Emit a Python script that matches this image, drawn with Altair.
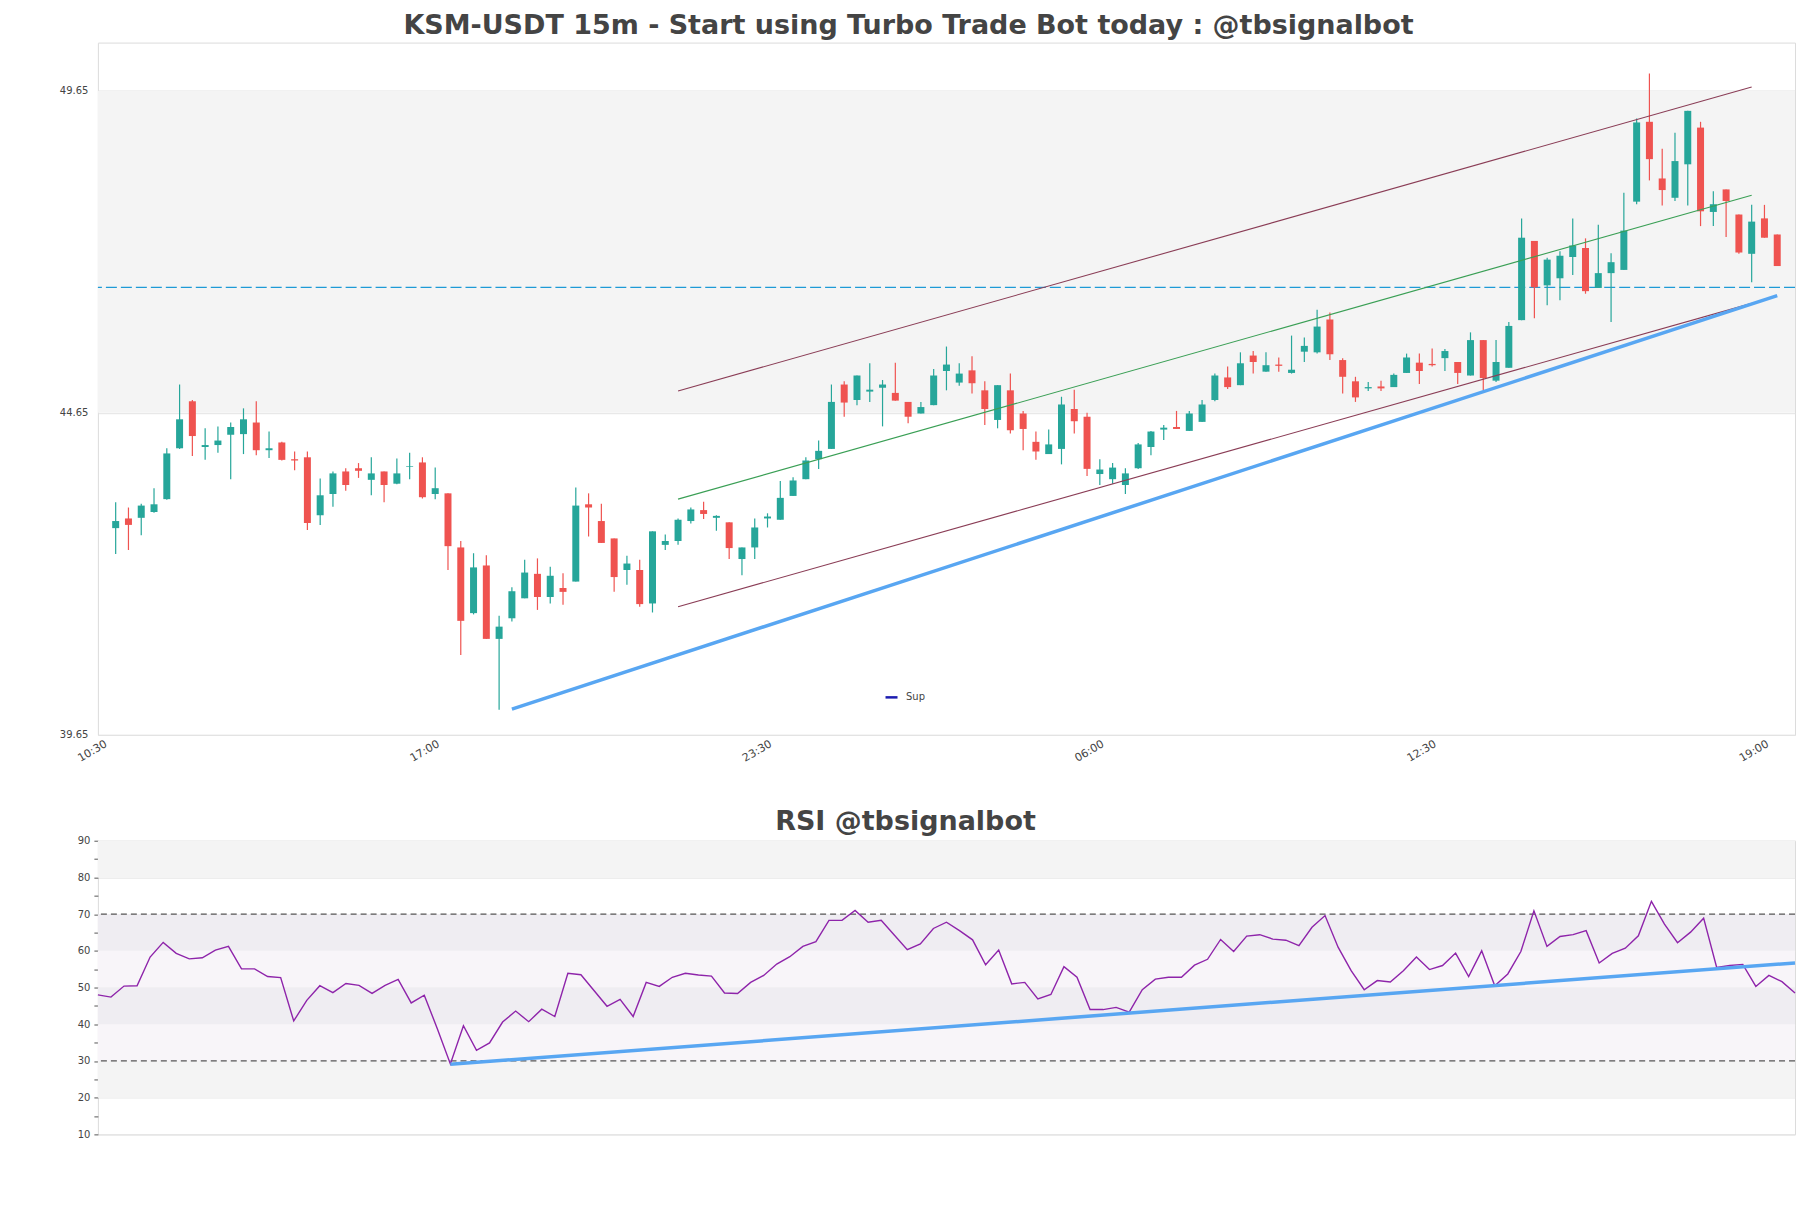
import altair as alt
import pandas as pd

# ---------------- text ----------------
main_title = "KSM-USDT 15m - Start using Turbo Trade Bot today : @tbsignalbot"
rsi_title = "RSI @tbsignalbot"
sup_name = "Sup"

# ---------------- time axis ----------------
start_time = "2024-01-01 10:30"
bar_minutes = 15
tick_labels = ["10:30", "17:00", "23:30", "06:00", "12:30", "19:00"]
tick_steps = [0, 26, 52, 78, 104, 130]          # bar offsets of the tick labels
top_x_range = [0, 132.0]                        # bar offsets at plot edges
rsi_x_range = [1, 131]

# ---------------- candles (bars 1..131) ----------------
opens = [42.86, 43.01, 43.02, 43.11, 43.31, 44.10, 44.83, 44.12, 44.15, 44.31,
         44.32, 44.50, 44.07, 44.19, 43.93, 43.96, 43.06, 43.39, 43.74, 43.79,
         43.61, 43.74, 43.55, 43.81, 43.88, 43.39, 43.40, 42.56, 41.54, 42.28,
         41.14, 41.46, 41.77, 42.15, 41.79, 41.93, 42.03, 43.23, 42.97, 42.70,
         42.21, 42.21, 41.69, 42.60, 42.66, 42.97, 43.14, 43.02, 42.95, 42.38,
         42.56, 43.01, 42.99, 43.36, 43.62, 43.93, 44.09, 45.09, 44.85, 44.98,
         45.04, 44.96, 44.82, 44.64, 44.77, 45.30, 45.12, 45.31, 45.00, 44.54,
         45.00, 44.64, 44.20, 44.01, 44.09, 44.71, 44.59, 43.70, 43.62, 43.53,
         43.79, 44.12, 44.39, 44.43, 44.37, 44.51, 44.85, 45.20, 45.08, 45.54,
         45.29, 45.40, 45.27, 45.60, 45.59, 46.10, 45.47, 45.14, 45.03, 45.06,
         45.05, 45.27, 45.43, 45.41, 45.50, 45.44, 45.23, 45.78, 45.15, 45.35,
         46.09, 47.32, 46.63, 46.74, 47.07, 47.21, 46.59, 46.82, 46.87, 47.93,
         49.17, 48.29, 47.99, 48.51, 49.08, 47.77, 48.12, 47.73, 47.12, 47.67,
         47.42]
highs = [43.26, 43.18, 43.24, 43.48, 44.10, 45.09, 44.85, 44.41, 44.44, 44.50,
         44.72, 44.83, 44.36, 44.20, 44.05, 44.05, 43.63, 43.74, 43.79, 43.87,
         43.96, 43.74, 43.94, 44.03, 43.96, 43.80, 43.40, 42.66, 42.47, 42.44,
         41.50, 41.94, 42.37, 42.39, 42.26, 42.16, 43.49, 43.40, 43.24, 42.70,
         42.43, 42.37, 42.81, 42.76, 43.01, 43.18, 43.27, 43.06, 42.95, 42.56,
         43.01, 43.09, 43.59, 43.65, 43.96, 44.22, 45.09, 45.14, 45.23, 45.42,
         45.16, 45.43, 44.82, 44.82, 45.33, 45.68, 45.42, 45.53, 45.14, 45.08,
         45.26, 44.68, 44.36, 44.39, 44.90, 45.01, 44.65, 43.93, 43.87, 43.79,
         44.18, 44.37, 44.46, 44.68, 44.68, 44.85, 45.26, 45.37, 45.59, 45.61,
         45.59, 45.51, 45.85, 45.82, 46.25, 46.21, 45.50, 45.21, 45.13, 45.15,
         45.26, 45.57, 45.57, 45.65, 45.64, 45.44, 45.90, 45.78, 45.78, 46.06,
         47.67, 47.32, 47.06, 47.16, 47.67, 47.36, 47.57, 47.13, 48.07, 49.22,
         49.92, 48.75, 49.00, 49.34, 49.17, 48.09, 48.12, 47.73, 47.88, 47.88,
         47.42]
lows = [42.46, 42.52, 42.75, 43.10, 43.30, 44.09, 43.98, 43.92, 44.03, 43.62,
        44.01, 43.99, 43.95, 43.91, 43.76, 42.83, 42.91, 43.19, 43.44, 43.64,
        43.37, 43.26, 43.54, 43.62, 43.32, 43.31, 42.21, 40.89, 41.52, 41.14,
        40.04, 41.41, 41.77, 41.59, 41.69, 41.67, 42.03, 42.73, 42.63, 41.87,
        41.98, 41.64, 41.55, 42.52, 42.60, 42.93, 43.00, 42.82, 42.38, 42.13,
        42.38, 42.87, 42.99, 43.36, 43.62, 43.78, 44.09, 44.59, 44.77, 44.82,
        44.44, 44.84, 44.49, 44.64, 44.77, 45.00, 45.07, 44.95, 44.46, 44.41,
        44.33, 44.07, 43.92, 44.01, 43.85, 44.33, 43.67, 43.53, 43.55, 43.39,
        43.78, 43.99, 44.23, 44.40, 44.37, 44.51, 44.83, 45.02, 45.08, 45.26,
        45.29, 45.29, 45.26, 45.44, 45.57, 45.47, 44.95, 44.82, 44.99, 44.99,
        45.05, 45.27, 45.10, 45.37, 45.30, 45.10, 45.23, 45.00, 45.13, 45.35,
        46.09, 46.12, 46.32, 46.40, 46.79, 46.50, 46.59, 46.06, 46.87, 47.89,
        48.26, 47.87, 47.94, 47.87, 47.55, 47.55, 47.38, 47.12, 46.68, 47.37,
        46.93]
closes = [42.97, 42.91, 43.21, 43.23, 44.02, 44.55, 44.29, 44.15, 44.22, 44.43,
          44.55, 44.07, 44.10, 43.92, 43.91, 42.94, 43.37, 43.71, 43.53, 43.75,
          43.71, 43.53, 43.71, 43.82, 43.34, 43.48, 42.58, 41.42, 42.25, 41.14,
          41.33, 41.88, 42.17, 41.79, 42.12, 41.87, 43.21, 43.18, 42.63, 42.10,
          42.31, 41.68, 42.81, 42.66, 42.99, 43.15, 43.08, 43.05, 42.55, 42.56,
          42.87, 43.04, 43.33, 43.60, 43.91, 44.06, 44.82, 44.81, 45.23, 45.01,
          45.09, 44.84, 44.59, 44.74, 45.23, 45.40, 45.26, 45.11, 44.71, 45.08,
          44.38, 44.40, 44.05, 44.16, 44.78, 44.52, 43.78, 43.77, 43.80, 43.71,
          44.16, 44.36, 44.42, 44.40, 44.64, 44.78, 45.23, 45.05, 45.42, 45.44,
          45.39, 45.38, 45.32, 45.69, 45.99, 45.56, 45.21, 44.89, 45.05, 45.03,
          45.24, 45.51, 45.30, 45.39, 45.61, 45.27, 45.78, 45.19, 45.44, 46.00,
          47.37, 46.60, 47.03, 47.09, 47.25, 46.54, 46.82, 46.99, 47.48, 49.16,
          48.59, 48.11, 48.56, 49.34, 47.78, 47.89, 47.94, 47.14, 47.62, 47.37,
          46.93]

# ---------------- price panel guides ----------------
price_domain = [39.65, 50.40]
price_ticks = [39.65, 44.65, 49.65]
zone_low = [44.65]
zone_high = [49.65]
level_price = [46.60]

channel_names = ["upper", "mid", "lower"]
channel_steps = [45.0, 129.0]
channel_upper = [44.99, 49.71]
channel_mid = [43.31, 48.03]
channel_lower = [41.64, 46.35]

sup_steps = [32.0, 131.0]
sup_values = [40.05, 46.47]

# ---------------- RSI (bars 1..131) ----------------
rsi_values = [48.0, 47.4, 50.4, 50.5, 58.3, 62.3, 59.3, 57.8, 58.1, 60.2,
              61.2, 55.1, 55.1, 53.0, 52.7, 40.9, 46.5, 50.5, 48.6, 51.1,
              50.6, 48.4, 50.6, 52.2, 45.8, 47.9, 38.8, 29.2, 39.6, 32.9,
              34.9, 40.6, 43.6, 40.7, 44.1, 42.1, 53.9, 53.5, 49.2, 44.9,
              46.8, 42.1, 51.4, 50.3, 52.8, 53.9, 53.4, 53.1, 48.5, 48.4,
              51.4, 53.3, 56.4, 58.4, 61.2, 62.5, 68.3, 68.3, 71.0, 67.8,
              68.3, 64.3, 60.3, 61.9, 66.1, 67.8, 65.5, 63.0, 56.2, 60.2,
              51.0, 51.4, 46.9, 48.1, 55.7, 52.8, 44.0, 44.0, 44.6, 43.3,
              49.4, 52.3, 52.8, 52.8, 56.1, 57.7, 63.1, 59.8, 64.0, 64.4,
              63.2, 62.9, 61.4, 66.4, 69.6, 61.0, 54.6, 49.4, 51.9, 51.5,
              54.6, 58.3, 54.9, 56.0, 59.4, 53.0, 60.0, 50.5, 53.7, 59.8,
              70.9, 61.2, 63.9, 64.4, 65.5, 56.7, 59.3, 60.7, 64.1, 73.5,
              67.3, 62.2, 65.1, 68.9, 55.5, 56.0, 56.3, 50.3, 53.3, 51.6,
              48.5]
rsi_domain = [10, 90]
rsi_levels = [70, 30]
rsi_band_lo = [80, 60, 50, 40, 30, 20]
rsi_band_hi = [90, 70, 60, 50, 40, 30]
rsi_band_kind = ["outer", "dark", "light", "dark", "light", "outer"]
rsi_trend_steps = [28, 131]
rsi_trend_values = [29.1, 56.7]

# ---------------- helpers ----------------
base = pd.Timestamp(start_time, tz="UTC")


def tms(step):
    return int((base + pd.Timedelta(minutes=bar_minutes * step)).value // 10**6)


FONT = "DejaVu Sans"
W = 1699
H_TOP = 693
H_RSI = 294
GREEN = "#26a69a"
RED = "#ef5350"
SUP_COLOR = "#58a6f2"

bar_steps = list(range(1, len(opens) + 1))
candles = pd.DataFrame({"t": [tms(s) for s in bar_steps], "open": opens,
                        "high": highs, "low": lows, "close": closes})
zone_df = pd.DataFrame({"lo": zone_low, "hi": zone_high})
level_df = pd.DataFrame({"v": level_price})
chan_rows = []
for name, vals in zip(channel_names, [channel_upper, channel_mid, channel_lower]):
    for s, v in zip(channel_steps, vals):
        chan_rows.append({"t": tms(s), "v": v, "line": name})
chan_df = pd.DataFrame(chan_rows)
sup_df = pd.DataFrame({"t": [tms(s) for s in sup_steps], "v": sup_values,
                       "name": [sup_name] * len(sup_steps)})

tick_ms = [tms(s) for s in tick_steps]
label_expr = ("[" + ",".join("'%s'" % l for l in tick_labels) + "][indexof(["
              + ",".join(str(m) for m in tick_ms) + "], time(datum.value))]")

x_top_axis = alt.Axis(values=tick_ms, labelExpr=label_expr, labelAngle=-30,
                      ticks=False, domain=False, grid=False, labelFontSize=11,
                      labelColor="#444", labelPadding=3, title=None,
                      labelFont=FONT, labelOverlap=False)
x_top_scale = alt.Scale(type="utc", domain=[tms(top_x_range[0]), tms(top_x_range[1])])


def xt():
    return alt.X("t:T", scale=x_top_scale, axis=x_top_axis)


y_top_axis = alt.Axis(values=price_ticks, format=".2f", ticks=False, domain=False,
                      grid=True, gridColor="#e3e3e3", labelFontSize=10,
                      labelColor="#444", labelPadding=10, title=None, labelFont=FONT,
                      minExtent=89, maxExtent=89)
y_top_scale = alt.Scale(domain=price_domain, nice=False, zero=False)


def yt(field):
    return alt.Y(field, scale=y_top_scale, axis=y_top_axis)


candle_color = alt.condition("datum.close >= datum.open", alt.value(GREEN), alt.value(RED))

zone = alt.Chart(zone_df).mark_rect(color="#f4f4f4").encode(
    y=yt("lo:Q"), y2="hi:Q", x=alt.value(0), x2=alt.value(W))
level = alt.Chart(level_df).mark_rule(color="#1e9ad6", strokeDash=[11, 4], strokeWidth=1.3).encode(
    y=yt("v:Q"))
wicks = alt.Chart(candles).mark_rule(strokeWidth=1.2).encode(
    x=xt(), y=yt("low:Q"), y2="high:Q", color=candle_color)
bodies = alt.Chart(candles).mark_bar(size=7).encode(
    x=xt(), y=yt("open:Q"), y2="close:Q", color=candle_color)
channels = alt.Chart(chan_df).mark_line(strokeWidth=1.1).encode(
    x=xt(), y=yt("v:Q"),
    stroke=alt.Stroke("line:N", scale=alt.Scale(domain=channel_names,
                                                range=["#8a3d56", "#3a9f55", "#8a3d56"]),
                      legend=None))
sup_line = alt.Chart(sup_df).mark_line(color=SUP_COLOR, strokeWidth=3.5).encode(
    x=xt(), y=yt("v:Q"))
sup_legend = alt.Chart(sup_df).mark_line(opacity=0).encode(
    x=xt(), y=yt("v:Q"),
    color=alt.Color("name:N", scale=alt.Scale(domain=[sup_name], range=["#1c1cb0"]),
                    legend=alt.Legend(orient="none", legendX=787, legendY=648, title=None,
                                      symbolType="stroke", symbolSize=144,
                                      symbolStrokeWidth=2.5, symbolOpacity=1,
                                      labelFontSize=10, labelFont=FONT,
                                      labelColor="#444", padding=0, labelOffset=7)))

top = alt.layer(zone, level, wicks, bodies, channels, sup_line, sup_legend).properties(
    width=W, height=H_TOP)

# ---------------- RSI panel ----------------
rsi_df = pd.DataFrame({"t": [tms(s) for s in bar_steps], "rsi": rsi_values})
band_df = pd.DataFrame({"lo": rsi_band_lo, "hi": rsi_band_hi, "kind": rsi_band_kind})
rsi_level_df = pd.DataFrame({"v": rsi_levels})
rsi_trend_df = pd.DataFrame({"t": [tms(s) for s in rsi_trend_steps], "v": rsi_trend_values})

x_rsi_scale = alt.Scale(type="utc", domain=[tms(rsi_x_range[0]), tms(rsi_x_range[1])])


def xr():
    return alt.X("t:T", scale=x_rsi_scale, axis=None)


y_rsi_axis = alt.Axis(values=list(range(10, 95, 5)),
                      labelExpr="datum.value % 10 == 0 ? datum.label : ''",
                      tickSize=4, tickColor="#555", domain=False, grid=True,
                      gridColor="#e3e3e3",
                      gridOpacity={"condition": {"test": "datum.value % 10 == 0", "value": 1},
                                   "value": 0},
                      labelFontSize=10, labelColor="#444", labelPadding=4, title=None,
                      labelFont=FONT, minExtent=89, maxExtent=89)
y_rsi_scale = alt.Scale(domain=rsi_domain, nice=False, zero=False)


def yr(field):
    return alt.Y(field, scale=y_rsi_scale, axis=y_rsi_axis)


bands = alt.Chart(band_df).mark_rect().encode(
    y=yr("lo:Q"), y2="hi:Q", x=alt.value(0), x2=alt.value(W),
    fill=alt.Fill("kind:N", scale=alt.Scale(domain=["outer", "dark", "light"],
                                            range=["#f4f4f4", "#efedf2", "#f8f5f9"]),
                  legend=None))
rsi_rules = alt.Chart(rsi_level_df).mark_rule(color="#555", strokeDash=[6, 4], strokeWidth=1.2).encode(
    y=yr("v:Q"))
rsi_line = alt.Chart(rsi_df).mark_line(color="#8e24aa", strokeWidth=1.4).encode(
    x=xr(), y=yr("rsi:Q"))
rsi_trend = alt.Chart(rsi_trend_df).mark_line(color=SUP_COLOR, strokeWidth=3.5).encode(
    x=xr(), y=yr("v:Q"))

rsi = alt.layer(bands, rsi_rules, rsi_line, rsi_trend).properties(
    width=W, height=H_RSI,
    title=alt.Title(rsi_title, fontSize=27, fontWeight="bold", color="#444",
                    font=FONT, anchor="middle", offset=0, dx=-41))

chart = alt.vconcat(top, rsi, spacing=43).properties(
    title=alt.Title(main_title, fontSize=27, fontWeight="bold", color="#444",
                    font=FONT, anchor="middle", offset=2, dx=3),
    padding={"left": 0, "top": 3, "right": 0, "bottom": 10}
).resolve_scale(color="independent", stroke="independent", fill="independent"
).resolve_legend(color="independent").configure_view(stroke="#dcdcdc")

chart.save("out.html", embed_options={"renderer": "svg", "actions": False})
